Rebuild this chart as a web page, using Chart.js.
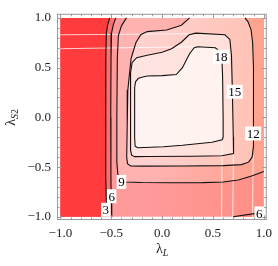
<!DOCTYPE html>
<html>
<head>
<meta charset="utf-8">
<script src="https://cdn.jsdelivr.net/npm/chart.js@4.4.0/dist/chart.umd.min.js"></script>
<style>
  html, body { margin: 0; padding: 0; background: #fff; }
  canvas { display: block; }
</style>
</head>
<body>
<canvas id="plot" width="278" height="266"></canvas>
<script>
// contour levels and axis ticks
const levels = [3, 6, 9, 12, 15, 18];
const xTicks = [-1, -0.5, 0, 0.5, 1];
const yTicks = [-1, -0.5, 0, 0.5, 1];

// contour lines, as [lambdaL, lambdaS2]
const contour3 = [[-0.515, 1], [-0.535, 0.93], [-0.548, 0.85], [-0.553, 0.6], [-0.555, 0], [-0.553, -0.6], [-0.548, -0.85], [-0.54, -1]];
const contour6 = [[-0.455, 1], [-0.48, 0.93], [-0.497, 0.85], [-0.502, 0.6], [-0.505, 0], [-0.503, -0.6], [-0.5, -0.85], [-0.495, -1]];
const contour9 = [[-0.35, 1], [-0.4, 0.92], [-0.43, 0.82], [-0.44, 0.6], [-0.445, 0], [-0.445, -0.45], [-0.435, -0.57],
  [-0.41, -0.63], [-0.36, -0.65], [-0.2, -0.655], [0.1, -0.657], [0.4, -0.656], [0.6, -0.65], [0.75, -0.63], [0.88, -0.59], [1, -0.545]];
const contour12 = [[0.27, 1], [0.19, 0.926], [0.045, 0.878], [-0.146, 0.862], [-0.21, 0.83], [-0.257, 0.752], [-0.305, 0.592],
  [-0.337, 0.274], [-0.343, -0.076], [-0.348, -0.4], [-0.34, -0.465], [-0.31, -0.488], [-0.2, -0.49], [0.2, -0.489],
  [0.6, -0.485], [0.78, -0.475], [0.85, -0.45], [0.885, -0.4], [0.897, -0.3], [0.9, 0], [0.897, 0.5], [0.89, 0.75],
  [0.875, 0.88], [0.845, 0.96], [0.815, 1]];
const contour15 = [[-0.146, 0.624], [0.0, 0.655], [0.093, 0.69], [0.19, 0.755], [0.266, 0.83], [0.332, 0.847], [0.618, 0.83],
  [0.666, 0.783], [0.682, 0.624], [0.69, 0.3], [0.7, -0.2], [0.705, -0.3], [0.7, -0.363], [0.587, -0.385], [0.3, -0.39],
  [-0.146, -0.394], [-0.27, -0.395], [-0.3, -0.38], [-0.31, -0.33], [-0.31, 0.45], [-0.295, 0.55], [-0.25, 0.6]];
const contour18 = [[-0.21, 0.4], [-0.146, 0.416], [0.0, 0.42], [0.14, 0.43], [0.2, 0.5], [0.27, 0.64], [0.316, 0.7], [0.35, 0.71],
  [0.523, 0.7], [0.57, 0.66], [0.587, 0.62], [0.595, 0.4], [0.6, 0], [0.6, -0.2], [0.59, -0.225], [0.49, -0.25], [0.2, -0.28],
  [0.013, -0.295], [-0.24, -0.305], [-0.265, -0.29], [-0.27, -0.2], [-0.27, 0.3], [-0.26, 0.36], [-0.235, 0.39]];
const contour6b = [[0.7, -1], [0.73, -0.993], [0.94, -0.962], [1, -0.955]];

// faint seams of the shading
const seams = [
  [[-1, 0.83], [0.27, 0.84]],
  [[-1, 0.69], [0.316, 0.71]],
  [[0.59, -0.24], [0.585, -1]],
  [[0.7, -0.37], [0.695, -1]],
  [[0.895, -0.38], [0.89, -1]]
];

// contour labels
const labelText = ['3', '6', '9', '12', '15', '18', '6'];
const labelX = [-0.553, -0.496, -0.4, 0.895, 0.714, 0.58, 0.955];
const labelY = [-0.929, -0.793, -0.649, -0.162, 0.258, 0.61, -0.965];

// band colours, below 3 up to above 18; the shading drifts to orange on the right
const bandLeft = ['#ff3b3d', '#ff6e6e', '#ff9a9a', '#ffb3b1', '#ffd0cd', '#ffe4e1', '#fff4f2'];
const bandRight = ['#ff3b3d', '#ff7b6c', '#ff8f84', '#ffa28e', '#ffc2b3', '#ffddd5', '#fff1ec'];

const toPts = arr => arr.map(p => ({x: p[0], y: p[1]}));
const closeLoop = arr => arr.concat([arr[0]]);

const regions = [
  {points: [[-1, -1], [1, -1], [1, 1], [-1, 1]], band: 2},
  {points: contour6.concat([[-1, -1], [-1, 1]]), band: 1},
  {points: contour3.concat([[-1, -1], [-1, 1]]), band: 0},
  {points: contour6b.concat([[1, -1]]), band: 1},
  {points: contour9.concat([[1, 1]]), band: 3},
  {points: contour12, band: 4},
  {points: contour15, band: 5},
  {points: contour18, band: 6}
];

const bandFill = band => ctx => {
  const chart = ctx.chart;
  const xs = chart.scales.x;
  if (!chart.chartArea || !xs) return bandLeft[band];
  const g = chart.ctx.createLinearGradient(xs.getPixelForValue(-1), 0, xs.getPixelForValue(1), 0);
  g.addColorStop(0, bandLeft[band]);
  g.addColorStop(0.45, bandLeft[band]);
  g.addColorStop(1, bandRight[band]);
  return g;
};

const datasets = [];
regions.forEach(r => {
  datasets.push({
    data: toPts(r.points),
    showLine: true,
    fill: 'shape',
    backgroundColor: bandFill(r.band),
    borderColor: 'rgba(0,0,0,0)',
    borderWidth: 0,
    pointRadius: 0,
    tension: 0
  });
});
seams.forEach(s => {
  datasets.push({
    data: toPts(s),
    showLine: true,
    fill: false,
    borderColor: 'rgba(255,255,255,0.75)',
    borderWidth: 1,
    pointRadius: 0
  });
});
[contour3, contour6, contour9, contour12, closeLoop(contour15), closeLoop(contour18), contour6b].forEach(c => {
  datasets.push({
    data: toPts(c),
    showLine: true,
    fill: false,
    borderColor: '#111',
    borderWidth: 1.1,
    pointRadius: 0,
    tension: 0
  });
});
// later datasets go on top
datasets.forEach((d, i) => { d.order = datasets.length - i; });

const serif = '"Liberation Serif", "DejaVu Serif", serif';
const fmt = v => (v < 0 ? '\u2212' : '') + Math.abs(v).toFixed(1);

const decor = {
  id: 'decor',
  afterDatasetsDraw(chart) {
    const ctx = chart.ctx;
    const xs = chart.scales.x, ys = chart.scales.y;
    ctx.save();
    ctx.font = '13px ' + serif;
    ctx.textAlign = 'center';
    ctx.textBaseline = 'middle';
    labelText.forEach((t, i) => {
      const px = xs.getPixelForValue(labelX[i]);
      const py = ys.getPixelForValue(labelY[i]);
      const w = ctx.measureText(t).width + 3;
      ctx.fillStyle = '#fff';
      ctx.fillRect(px - w / 2, py - 7, w, 14);
      ctx.fillStyle = '#000';
      ctx.fillText(t, px, py + 1);
    });
    ctx.restore();
  },
  afterDraw(chart) {
    const ctx = chart.ctx;
    const a = chart.chartArea;
    const xs = chart.scales.x, ys = chart.scales.y;
    ctx.save();
    ctx.strokeStyle = '#9a9a9a';
    ctx.lineWidth = 1;
    ctx.strokeRect(a.left + 0.5, a.top + 0.5, a.right - a.left - 1, a.bottom - a.top - 1);
    ctx.beginPath();
    for (let k = -10; k <= 10; k++) {
      const v = k / 10;
      const len = k % 5 === 0 ? 4.5 : 2.5;
      const px = Math.round(xs.getPixelForValue(v)) + 0.5;
      const py = Math.round(ys.getPixelForValue(v)) + 0.5;
      ctx.moveTo(px, a.bottom); ctx.lineTo(px, a.bottom - len);
      ctx.moveTo(px, a.top); ctx.lineTo(px, a.top + len);
      ctx.moveTo(a.left, py); ctx.lineTo(a.left + len, py);
      ctx.moveTo(a.right, py); ctx.lineTo(a.right - len, py);
    }
    ctx.stroke();

    // axis titles
    ctx.fillStyle = '#222';
    ctx.textBaseline = 'alphabetic';
    ctx.textAlign = 'left';
    const cx = xs.getPixelForValue(0);
    ctx.font = '14px ' + serif;
    const lw = ctx.measureText('\u03bb').width;
    ctx.font = 'italic 10px ' + serif;
    const sw = ctx.measureText('L').width;
    let x0 = cx - (lw + sw) / 2;
    ctx.font = '14px ' + serif;
    ctx.fillText('\u03bb', x0, 253);
    ctx.font = 'italic 10px ' + serif;
    ctx.fillText('L', x0 + lw, 256);

    const cy = ys.getPixelForValue(0);
    ctx.translate(15, cy);
    ctx.rotate(-Math.PI / 2);
    ctx.font = '14px ' + serif;
    const lw2 = ctx.measureText('\u03bb').width;
    ctx.font = 'italic 10px ' + serif;
    const sw2 = ctx.measureText('S').width;
    ctx.font = '10px ' + serif;
    const tw2 = ctx.measureText('2').width;
    x0 = -(lw2 + sw2 + tw2) / 2;
    ctx.font = '14px ' + serif;
    ctx.fillText('\u03bb', x0, 0);
    ctx.font = 'italic 10px ' + serif;
    ctx.fillText('S', x0 + lw2, 3);
    ctx.font = '10px ' + serif;
    ctx.fillText('2', x0 + lw2 + sw2, 3);
    ctx.restore();
  }
};

new Chart(document.getElementById('plot'), {
  type: 'scatter',
  data: {datasets: datasets},
  options: {
    responsive: false,
    animation: false,
    devicePixelRatio: 1,
    layout: {padding: {top: 3, right: 5, left: 0, bottom: 0}},
    plugins: {legend: {display: false}, tooltip: {enabled: false}},
    scales: {
      x: {
        type: 'linear', min: -1.0334, max: 1.0287,
        afterBuildTicks: s => { s.ticks = xTicks.map(v => ({value: v})); },
        afterFit: s => { s.height = 46; },
        ticks: {callback: v => fmt(v), font: {family: serif, size: 13}, color: '#222', padding: 6, maxRotation: 0, autoSkip: false},
        grid: {display: false, drawTicks: false},
        border: {display: false}
      },
      y: {
        type: 'linear', min: -1.0315, max: 1.041,
        afterBuildTicks: s => { s.ticks = yTicks.map(v => ({value: v})); },
        afterFit: s => { s.width = 57; },
        ticks: {callback: v => fmt(v), font: {family: serif, size: 13}, color: '#222', padding: 6, autoSkip: false},
        grid: {display: false, drawTicks: false},
        border: {display: false}
      }
    }
  },
  plugins: [decor]
});
</script>
</body>
</html>
